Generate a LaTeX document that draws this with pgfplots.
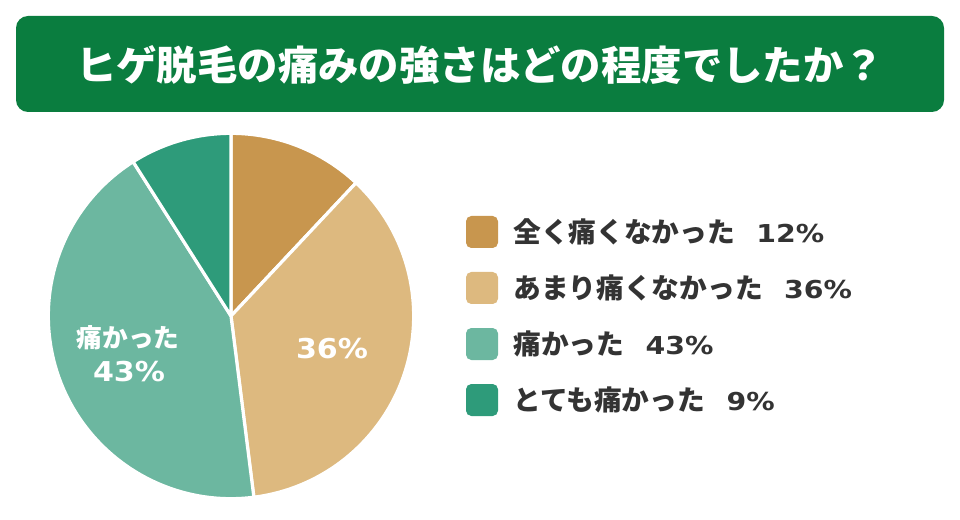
\documentclass[border=0pt]{standalone}
\usepackage{fontspec}
\usepackage{graphicx}
\usepackage{pgfplots}
\pgfplotsset{compat=1.18}
\newfontfamily\jp{Noto Sans CJK JP}
\IfFontExistsTF{Noto Sans CJK JP Black}{\newfontfamily\jpblack{Noto Sans CJK JP Black}}{\newcommand{\jpblack}{\jp\bfseries}}
\newfontfamily\num{DejaVu Sans}
\definecolor{banner}{HTML}{0A7D3F}
\definecolor{c1}{HTML}{C8964E}
\definecolor{c2}{HTML}{DDB97F}
\definecolor{c3}{HTML}{6CB7A0}
\definecolor{c4}{HTML}{2E9B7A}
\definecolor{txt}{HTML}{333333}
\def\R{137pt}
\newcommand{\lnum}[1]{\scalebox{1.15}[1]{\num\bfseries\fontsize{18.5}{20}\selectfont #1}}
\newcommand{\pnum}[1]{\scalebox{1.1}[1]{\num\bfseries\fontsize{20.5}{22}\selectfont #1}}
\newcommand{\ljp}[1]{{\jp\bfseries\fontsize{20.8}{23}\selectfont #1}}
\begin{document}
\begin{tikzpicture}
\begin{axis}[x=0.75pt,y=0.75pt,xmin=0,xmax=960,ymin=0,ymax=520,y dir=reverse,
  hide axis,scale only axis,clip=false]
\path (axis cs:0,0) rectangle (axis cs:960,520);
\fill[banner, rounded corners=9pt] (axis cs:16,16) rectangle (axis cs:944,112);
\node[text=white, font=\jpblack\fontsize{30.3}{33}\selectfont] at (axis cs:480,65) {ヒゲ脱毛の痛みの強さはどの程度でしたか？};
% pie slices: 12, 36, 43, 9 (percent), clockwise from top
\fill[c1, draw=white, line width=2.4pt, line join=round] (axis cs:231,316) -- ++(90:\R) arc[start angle=90, delta angle={-12*3.6}, radius=\R] -- cycle;
\fill[c2, draw=white, line width=2.4pt, line join=round] (axis cs:231,316) -- ++({90-12*3.6}:\R) arc[start angle={90-12*3.6}, delta angle={-36*3.6}, radius=\R] -- cycle;
\fill[c3, draw=white, line width=2.4pt, line join=round] (axis cs:231,316) -- ++({90-48*3.6}:\R) arc[start angle={90-48*3.6}, delta angle={-43*3.6}, radius=\R] -- cycle;
\fill[c4, draw=white, line width=2.4pt, line join=round] (axis cs:231,316) -- ++({90-91*3.6}:\R) arc[start angle={90-91*3.6}, delta angle={-9*3.6}, radius=\R] -- cycle;
% slice labels
\node[text=white, inner sep=0pt] at (axis cs:332,349) {\pnum{36\%}};
\node[text=white, inner sep=0pt, font=\jp\bfseries\fontsize{19.3}{21}\selectfont] at (axis cs:128,338) {痛かった};
\node[text=white, inner sep=0pt] at (axis cs:129,372) {\pnum{43\%}};
% legend
\fill[c1, rounded corners=4pt] (axis cs:466,216) rectangle (axis cs:498,248);
\fill[c2, rounded corners=4pt] (axis cs:466,272) rectangle (axis cs:498,304);
\fill[c3, rounded corners=4pt] (axis cs:466,328) rectangle (axis cs:498,360);
\fill[c4, rounded corners=4pt] (axis cs:466,384) rectangle (axis cs:498,416);
\node[anchor=west, inner sep=0pt, text=txt] at (axis cs:513,232) {\ljp{全く痛くなかった}\hspace{16pt}\lnum{12\%}};
\node[anchor=west, inner sep=0pt, text=txt] at (axis cs:513,288) {\ljp{あまり痛くなかった}\hspace{16pt}\lnum{36\%}};
\node[anchor=west, inner sep=0pt, text=txt] at (axis cs:513,344) {\ljp{痛かった}\hspace{16pt}\lnum{43\%}};
\node[anchor=west, inner sep=0pt, text=txt] at (axis cs:513,400) {\ljp{とても痛かった}\hspace{16pt}\lnum{9\%}};
\end{axis}
\end{tikzpicture}
\end{document}
